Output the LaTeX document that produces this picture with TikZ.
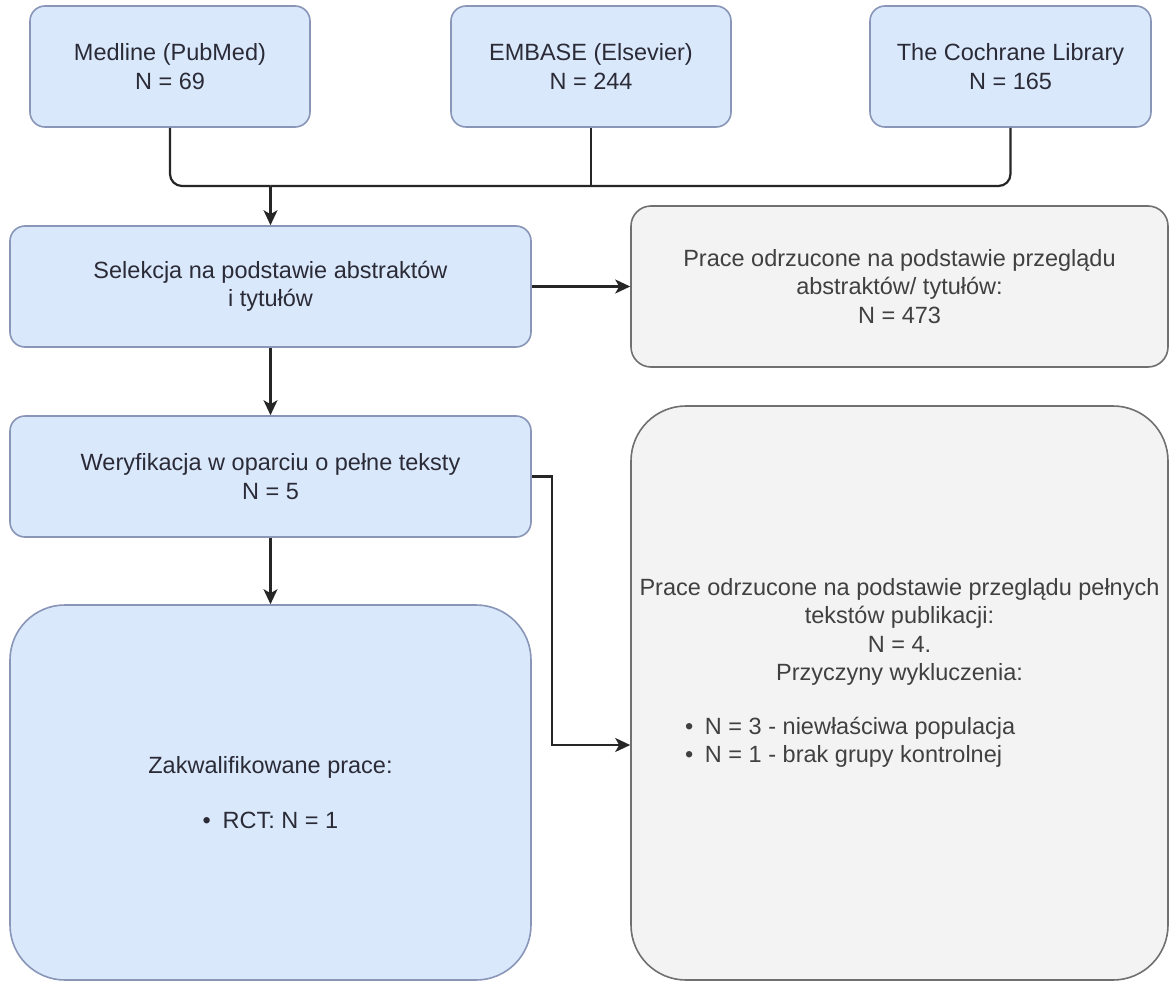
\documentclass[tikz,border=0pt]{standalone}
\usepackage{fontspec}
\setmainfont{Liberation Sans}
\usetikzlibrary{arrows.meta,calc}
\definecolor{bluefill}{HTML}{DAE8FC}
\definecolor{bluedraw}{HTML}{8A96B8}
\definecolor{greyfill}{HTML}{F3F3F3}
\definecolor{greydraw}{HTML}{707070}
\definecolor{bluetext}{HTML}{2A2B36}
\definecolor{greytext}{HTML}{404040}
\begin{document}
\begin{tikzpicture}[x=1pt,y=-1pt,
  every node/.style={font=\fontsize{23.5pt}{28.5pt}\selectfont, inner sep=0pt, align=center},
  bluebox/.style={draw=bluedraw, fill=bluefill, line width=1.6pt, text=bluetext, rectangle, rounded corners=15pt},
  greybox/.style={draw=greydraw, fill=greyfill, line width=1.6pt, text=greytext, rectangle, rounded corners=20pt},
  conn/.style={draw=black!85, line width=2.2pt},
  arr/.style={conn, -{Stealth[length=15pt,width=14pt,inset=4pt]}}
]
\useasboundingbox (0,0) rectangle (1170,982);
\fill[white] (0,0) rectangle (1170,982);

\node[bluebox, minimum width=280pt, minimum height=121pt] (med) at (170,66.5) {Medline (PubMed)\\N = 69};
\node[bluebox, minimum width=280pt, minimum height=121pt] (emb) at (591,66.5) {EMBASE (Elsevier)\\N = 244};
\node[bluebox, minimum width=281pt, minimum height=121pt] (coc) at (1010.5,66.5) {The Cochrane Library\\N = 165};

\node[bluebox, minimum width=521pt, minimum height=121pt] (sel) at (270.5,286.5) {Selekcja na podstawie abstraktów\\i tytułów};
\node[greybox, minimum width=537pt, minimum height=161pt] (ab) at (899.5,286.5) {Prace odrzucone na podstawie przeglądu\\abstraktów/ tytułów:\\N = 473};

\node[bluebox, minimum width=521pt, minimum height=121pt] (wer) at (270.5,476.5) {Weryfikacja w oparciu o pełne teksty\\N = 5};

\node[bluebox, rounded corners=55pt, minimum width=521pt, minimum height=375pt] (zak) at (270.5,792.5) {Zakwalifikowane prace:\\[26pt]\makebox[20pt][l]{•}RCT: N = 1};

\node[greybox, rounded corners=55pt, minimum width=537pt, minimum height=574pt] (full) at (899.5,693) {Prace odrzucone na podstawie przeglądu pełnych\\tekstów publikacji:\\N = 4.\\Przyczyny wykluczenia:\\[28pt]\makebox[537pt][l]{\hspace{54pt}\begin{tabular}{@{}l@{}}\makebox[20pt][l]{•}N = 3 - niewłaściwa populacja\\[-0.5pt]\makebox[20pt][l]{•}N = 1 - brak grupy kontrolnej\end{tabular}}\\[30pt]};

\coordinate (j) at (270.5,186);
\draw[conn, rounded corners=12pt] (med.south) |- (j);
\draw[conn, rounded corners=12pt] (coc.south) |- (j);
\draw[conn] (emb.south) -- (emb.south |- j);
\draw[arr] (j) -- (sel.north);
\draw[arr] (sel.east) -- (ab.west);
\draw[arr] (sel.south) -- (wer.north);
\draw[arr] (wer.south) -- (zak.north);
\coordinate (k) at ($(full.west)+(0,52)$);
\draw[arr] (wer.east) -- ++(20,0) |- (k);
\end{tikzpicture}
\end{document}
